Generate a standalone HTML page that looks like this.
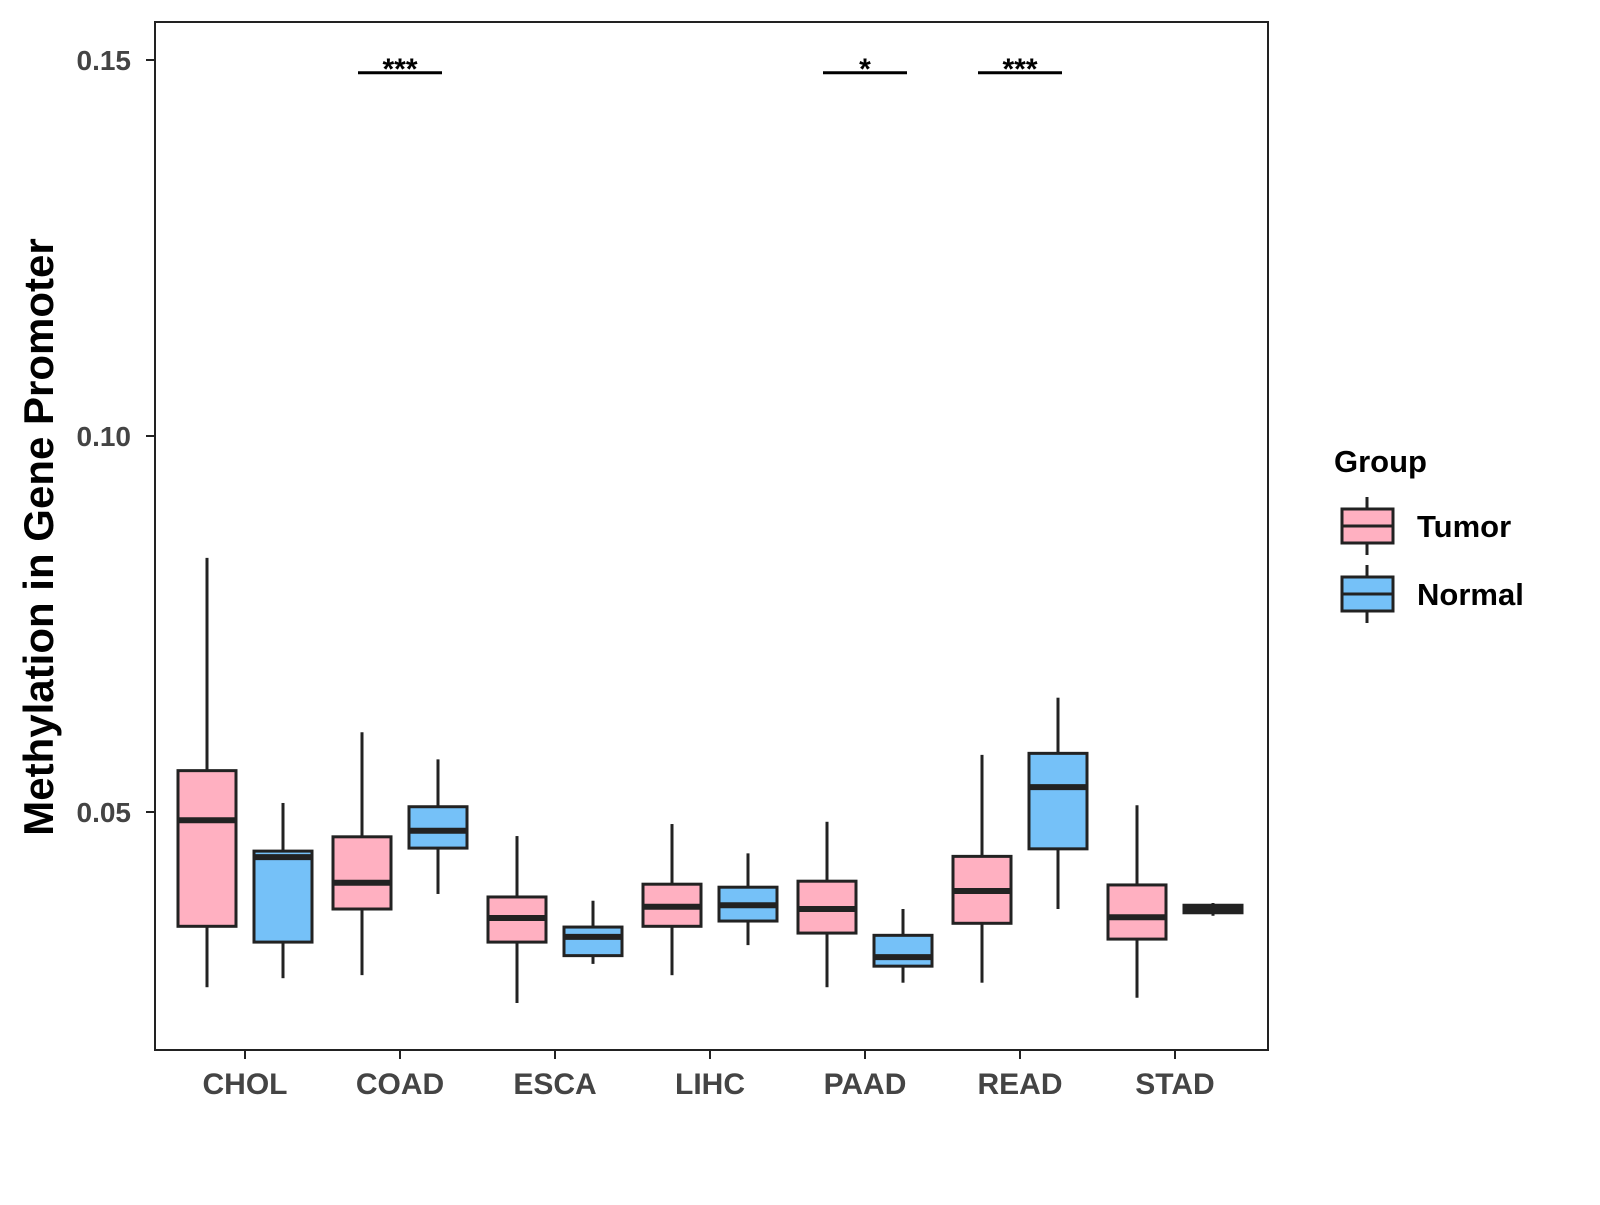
<!DOCTYPE html>
<html><head><meta charset="utf-8"><style>
body{margin:0;background:#fff}
svg text{font-family:"Liberation Sans",sans-serif;font-weight:bold}
</style></head><body>
<svg id="chart" width="1600" height="1200" xmlns="http://www.w3.org/2000/svg">
<rect width="1600" height="1200" fill="#fff"/>
<g id="plot"></g>
</svg>
<script>
const categories=["CHOL","COAD","ESCA","LIHC","PAAD","READ","STAD"];
// [low, q1, median, q3, high]
const tumor=[[0.0267,0.0348,0.0489,0.0555,0.0838],[0.0283,0.0371,0.0406,0.0467,0.0606],[0.0246,0.0327,0.0359,0.0387,0.0468],[0.0283,0.0348,0.0374,0.0404,0.0484],[0.0267,0.0339,0.0371,0.0408,0.0487],[0.0273,0.0352,0.0395,0.0441,0.0576],[0.0253,0.0331,0.0360,0.0403,0.0509]];
const normal=[[0.0279,0.0327,0.0440,0.0448,0.0512],[0.0391,0.0452,0.0475,0.0507,0.0570],[0.0298,0.0309,0.0334,0.0347,0.0382],[0.0323,0.0355,0.0376,0.0400,0.0445],[0.0273,0.0295,0.0307,0.0336,0.0371],[0.0371,0.0451,0.0533,0.0578,0.0652],[0.0362,0.0366,0.0371,0.0376,0.0379]];
const yTicks=[0.05,0.10,0.15];
const yTickLabels=["0.05","0.10","0.15"];
const sig=[{cat:"COAD",label:"***"},{cat:"PAAD",label:"*"},{cat:"READ",label:"***"}];
const sigLevel=0.1483;

const NS="http://www.w3.org/2000/svg";
const g=document.getElementById('plot');
const y=v=>812-(v-0.05)*7520;
const x=i=>245+i*155;
function el(tag,a,parent){const e=document.createElementNS(NS,tag);for(const k in a)e.setAttribute(k,a[k]);(parent||g).appendChild(e);return e;}

const panel=el('rect',{x:155,y:22,width:1113,height:1028,fill:'none',stroke:'#222','stroke-width':2});



yTicks.forEach((t,i)=>{
  const tk=el('line',{x1:146,x2:155,y1:y(t),y2:y(t),stroke:'#222','stroke-width':2});
  
  
  const tx=el('text',{x:131,y:y(t)+10,'text-anchor':'end','font-size':28,fill:'#444'});
  tx.textContent=yTickLabels[i];
  
  
});
categories.forEach((c,i)=>{
  const tk=el('line',{x1:x(i),x2:x(i),y1:1050,y2:1059,stroke:'#222','stroke-width':2});
  
  
  const tx=el('text',{x:x(i),y:1094,'text-anchor':'middle','font-size':30,fill:'#444'});
  tx.textContent=c;
  
  
});

function box(cx,d,fill,name){
  const grp=el('g',{});
  
  
  el('line',{x1:cx,x2:cx,y1:y(d[0]),y2:y(d[1]),stroke:'#222','stroke-width':3},grp);
  el('line',{x1:cx,x2:cx,y1:y(d[3]),y2:y(d[4]),stroke:'#222','stroke-width':3},grp);
  el('rect',{x:cx-29,y:y(d[3]),width:58,height:Math.max(y(d[1])-y(d[3]),1),fill:fill,stroke:'#222','stroke-width':3},grp);
  el('line',{x1:cx-29,x2:cx+29,y1:y(d[2]),y2:y(d[2]),stroke:'#222','stroke-width':6},grp);
}
categories.forEach((c,i)=>{
  box(x(i)-38,tumor[i],'#FFB0C1','box-tumor-'+c.toLowerCase());
  box(x(i)+38,normal[i],'#75C1F8','box-normal-'+c.toLowerCase());
});
sig.forEach(s=>{
  const i=categories.indexOf(s.cat);
  const ln=el('line',{x1:x(i)-42,x2:x(i)+42,y1:y(sigLevel),y2:y(sigLevel),stroke:'#000','stroke-width':3});
  
  
  const t=el('text',{x:x(i),y:y(sigLevel)+6,'text-anchor':'middle','font-size':30,fill:'#000'});
  t.textContent=s.label;
  
  
});

const yt=el('text',{x:0,y:0,transform:'translate(53,537) rotate(-90)','text-anchor':'middle','font-size':42,fill:'#000'});
yt.textContent='Methylation in Gene Promoter';



const lt=el('text',{x:1334,y:472,'font-size':31,fill:'#000'});
lt.textContent='Group';


[['Tumor','#FFB0C1',526],['Normal','#75C1F8',594]].forEach(([n,f,cy])=>{
  const lg=el('g',{});
  
  
  el('line',{x1:1367,x2:1367,y1:cy-29,y2:cy+29,stroke:'#222','stroke-width':3},lg);
  el('rect',{x:1342,y:cy-17,width:51,height:34,fill:f,stroke:'#222','stroke-width':3},lg);
  el('line',{x1:1342,x2:1393,y1:cy,y2:cy,stroke:'#222','stroke-width':3},lg);
  const t=el('text',{x:1417,y:cy+11,'font-size':31,fill:'#000'},lg);
  t.textContent=n;
});
</script>
</body></html>
